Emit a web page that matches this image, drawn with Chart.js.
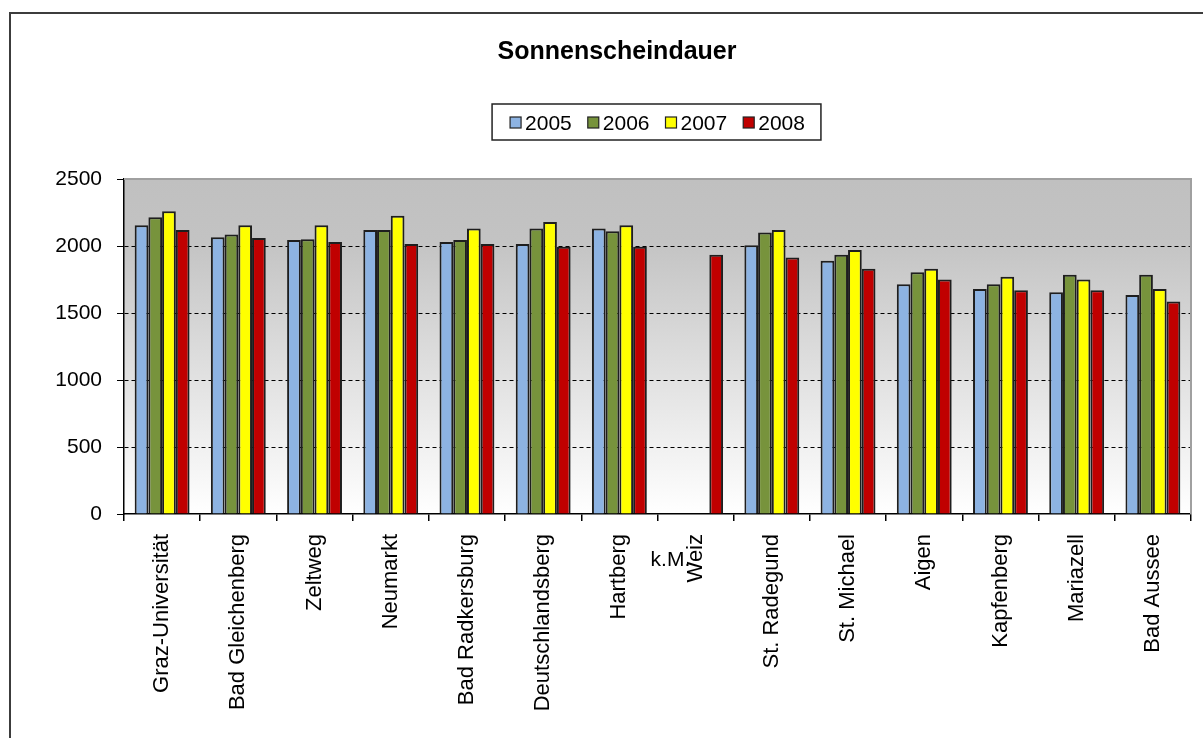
<!DOCTYPE html>
<html lang="de">
<head>
    <meta charset="UTF-8">
    <title>Sonnenscheindauer</title>
    <style>
        html, body {
            margin: 0;
            padding: 0;
            background: #ffffff;
            overflow: hidden;
            width: 1203px;
            height: 738px;
        }
        #frame {
            position: absolute;
            left: 9px;
            top: 12px;
            width: 1212px;
            height: 726px;
            border: 2px solid #3c3c3c;
            background: #ffffff;
        }
        canvas {
            display: block;
        }
    </style>
</head>
<body>
    <div id="frame">
        <canvas id="myChart" width="1212" height="724"></canvas>
    </div>

    <script src="https://cdn.jsdelivr.net/npm/chart.js"></script>
    <script>
        const chartTitle = 'Sonnenscheindauer';
        const categories = ['Graz-Universität', 'Bad Gleichenberg', 'Zeltweg', 'Neumarkt', 'Bad Radkersburg', 'Deutschlandsberg', 'Hartberg', 'Weiz', 'St. Radegund', 'St. Michael', 'Aigen', 'Kapfenberg', 'Mariazell', 'Bad Aussee'];
        const years = ['2005', '2006', '2007', '2008'];
        const values2005 = [2155, 2065, 2045, 2120, 2030, 2015, 2130, null, 2005, 1890, 1715, 1680, 1655, 1635];
        const values2006 = [2215, 2085, 2050, 2120, 2045, 2130, 2110, null, 2100, 1935, 1805, 1715, 1785, 1785];
        const values2007 = [2260, 2155, 2155, 2225, 2130, 2180, 2155, null, 2120, 1970, 1830, 1770, 1750, 1680];
        const values2008 = [2120, 2060, 2030, 2015, 2015, 1995, 1995, 1935, 1915, 1830, 1750, 1670, 1670, 1585];
        const yTicks = [0, 500, 1000, 1500, 2000, 2500];
        const missingNote = 'k.M.';   // keine Messung (Weiz)
        const colors = ['#8db3e2', '#77933c', '#ffff00', '#c00000'];

        const seriesValues = [values2005, values2006, values2007, values2008];
        const FONT = "'Liberation Sans', Arial, sans-serif";

        // Hintergrund (Verlauf), Rahmen, Titel, Legende und k.M.-Hinweis
        const decorations = {
            id: 'decorations',
            beforeDraw(chart) {
                const ctx = chart.ctx;
                const a = chart.chartArea;
                const g = ctx.createLinearGradient(0, a.top, 0, a.bottom);
                g.addColorStop(0, '#c0c0c0');
                g.addColorStop(0.18, '#c3c3c3');
                g.addColorStop(1, '#ffffff');
                ctx.save();
                ctx.fillStyle = g;
                ctx.fillRect(a.left, a.top, a.right - a.left, a.bottom - a.top);
                ctx.restore();
            },
            afterDraw(chart) {
                const ctx = chart.ctx;
                const a = chart.chartArea;
                ctx.save();
                // Rahmen oben und rechts
                ctx.strokeStyle = '#a0a0a0';
                ctx.lineWidth = 2;
                ctx.beginPath();
                ctx.moveTo(a.left, a.top);
                ctx.lineTo(a.right, a.top);
                ctx.lineTo(a.right, a.bottom);
                ctx.stroke();

                // Titel
                ctx.fillStyle = '#000';
                ctx.font = 'bold 25px ' + FONT;
                ctx.textAlign = 'center';
                ctx.textBaseline = 'alphabetic';
                ctx.fillText(chartTitle, chart.width / 2, 45);

                // Legende
                ctx.font = '21px ' + FONT;
                ctx.textAlign = 'left';
                const box = 11, gapText = 4, gapItem = 16;
                let total = 0;
                const widths = years.map(y => ctx.measureText(y).width);
                widths.forEach(w => total += box + gapText + w + gapItem);
                total -= gapItem;
                const cx = (a.left + a.right) / 2;
                let x = cx - total / 2;
                const boxTop = 90, boxBottom = 126;
                ctx.strokeStyle = '#222';
                ctx.lineWidth = 1.5;
                ctx.fillStyle = '#fff';
                ctx.fillRect(x - 18, boxTop, total + 34, boxBottom - boxTop);
                ctx.strokeRect(x - 18, boxTop, total + 34, boxBottom - boxTop);
                years.forEach((y, i) => {
                    ctx.fillStyle = colors[i];
                    ctx.fillRect(x, 103, box, box);
                    ctx.lineWidth = 1.2;
                    ctx.strokeStyle = '#222';
                    ctx.strokeRect(x, 103, box, box);
                    ctx.fillStyle = '#000';
                    ctx.fillText(y, x + box + gapText, 116);
                    x += box + gapText + widths[i] + gapItem;
                });

                // k.M. bei Weiz
                const xs = chart.scales.x;
                const px = xs.getPixelForValue(categories.indexOf('Weiz'));
                ctx.font = '21px ' + FONT;
                ctx.fillStyle = '#000';
                ctx.textAlign = 'left';
                ctx.fillText(missingNote, px - 45, 552);
                ctx.restore();
            }
        };

        document.addEventListener('DOMContentLoaded', function () {
            const ctx = document.getElementById('myChart').getContext('2d');
            new Chart(ctx, {
                type: 'bar',
                data: {
                    labels: categories,
                    datasets: years.map((y, i) => ({
                        label: y,
                        data: seriesValues[i],
                        backgroundColor: colors[i],
                        borderColor: '#1e1e1e',
                        borderWidth: 2,
                        barPercentage: 1,
                        categoryPercentage: 0.72
                    }))
                },
                options: {
                    responsive: false,
                    animation: false,
                    devicePixelRatio: 1,
                    layout: {
                        padding: { top: 165, right: 32, left: 0, bottom: 0 }
                    },
                    plugins: {
                        legend: { display: false },
                        title: { display: false },
                        tooltip: { enabled: false }
                    },
                    scales: {
                        x: {
                            afterFit(scale) { scale.height = 224; },
                            grid: {
                                offset: true,
                                drawOnChartArea: false,
                                drawTicks: true,
                                tickLength: 7,
                                color: '#000',
                                tickColor: '#000',
                                lineWidth: 1.5
                            },
                            border: { display: true, color: '#000', width: 1.5 },
                            ticks: {
                                autoSkip: false,
                                minRotation: 90,
                                maxRotation: 90,
                                padding: 13,
                                color: '#000',
                                font: { family: FONT, size: 22 }
                            }
                        },
                        y: {
                            min: 0,
                            max: 2500,
                            afterFit(scale) { scale.width = 113; },
                            afterBuildTicks(scale) {
                                scale.ticks = yTicks.map(v => ({ value: v }));
                            },
                            grid: {
                                color: c => (c.tick && (c.tick.value === 0 || c.tick.value === 2500)) ? 'rgba(0,0,0,0)' : '#000',
                                tickColor: '#000',
                                tickLength: 7,
                                lineWidth: 1
                            },
                            border: { display: true, color: '#000', width: 1.5, dash: [4, 3] },
                            ticks: {
                                padding: 15,
                                color: '#000',
                                font: { family: FONT, size: 21 },
                                callback: v => String(v)
                            }
                        }
                    }
                },
                plugins: [decorations]
            });
        });
    </script>
</body>
</html>
